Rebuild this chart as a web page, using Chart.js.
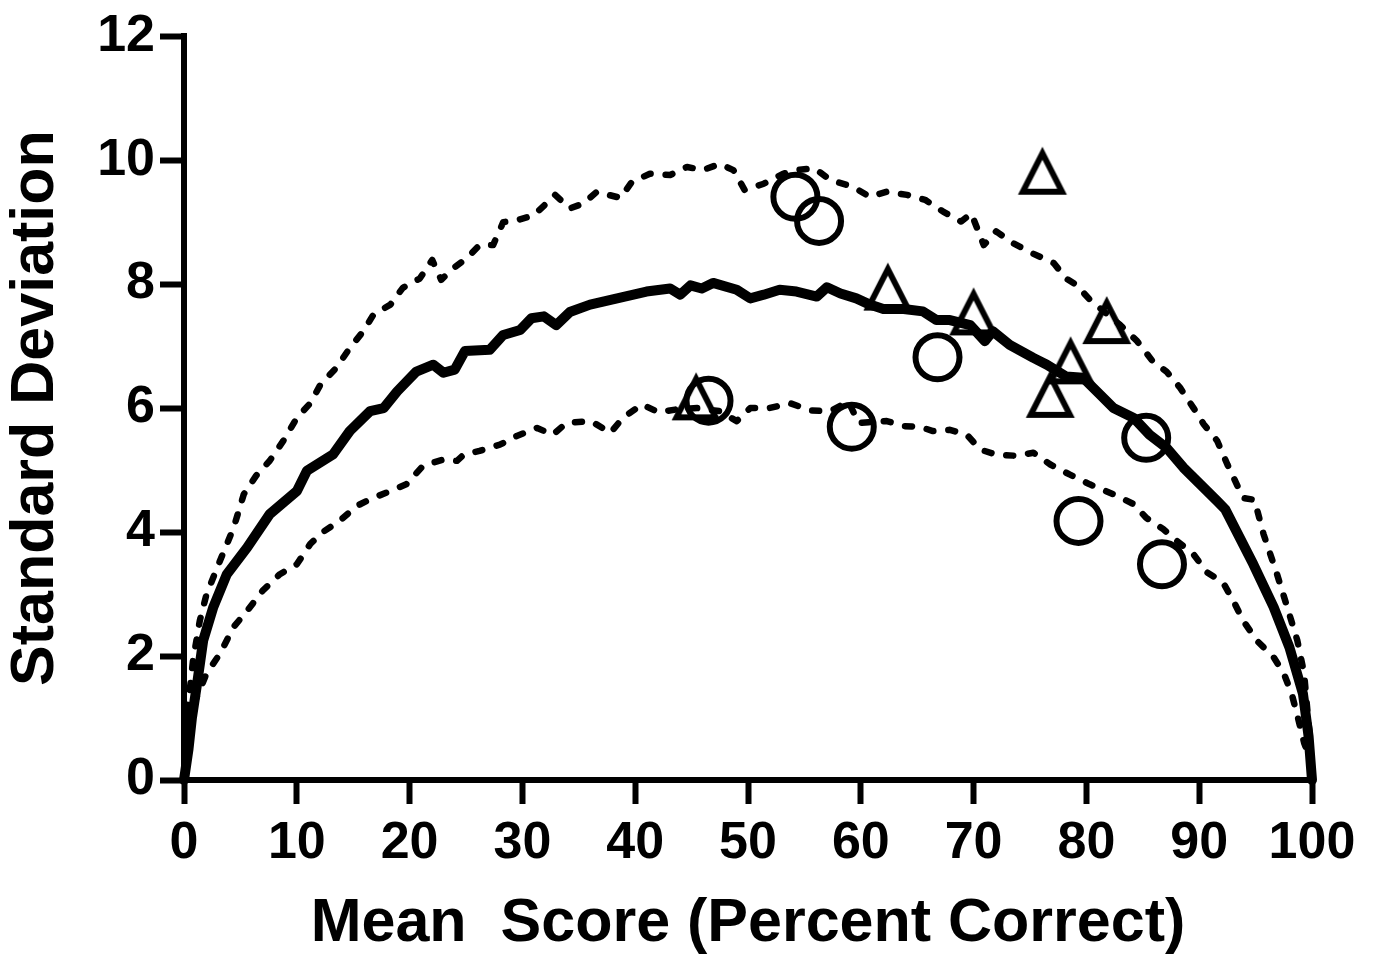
<!DOCTYPE html>
<html>
<head>
<meta charset="utf-8">
<title>Standard Deviation vs Mean Score</title>
<script src="https://cdn.jsdelivr.net/npm/chart.js@4.4.1/dist/chart.umd.min.js"></script>
<style>
  html, body { margin: 0; padding: 0; background: #fff; }
  #wrap { width: 1376px; height: 962px; }
</style>
</head>
<body>
<div id="wrap"><canvas id="chart" width="1376" height="962"></canvas></div>
<script>
// Axis ticks
const xTicks = [0, 10, 20, 30, 40, 50, 60, 70, 80, 90, 100];
const yTicks = [0, 2, 4, 6, 8, 10, 12];

// Mean simulated SD as a function of mean score: [mean %, SD]
const meanSD = [
  [0, 0], [0.4, 0.5], [0.7, 1.0], [1.2, 1.6], [1.7, 2.25], [2.6, 2.79], [3.8, 3.32],
  [5.6, 3.75], [7.6, 4.29], [10.0, 4.66], [10.9, 4.99], [13.2, 5.25], [14.7, 5.63],
  [16.5, 5.95], [17.7, 6.0], [18.9, 6.27], [20.6, 6.59], [22.1, 6.70], [23.0, 6.57],
  [24.0, 6.62], [24.9, 6.92], [27.1, 6.94], [28.3, 7.18], [29.8, 7.26], [30.8, 7.45],
  [31.9, 7.48], [33.0, 7.34], [34.2, 7.55], [36.0, 7.67], [38.4, 7.77], [41.0, 7.88],
  [43.1, 7.93], [44.0, 7.83], [44.9, 7.98], [45.9, 7.93], [46.9, 8.02], [49.0, 7.91],
  [50.2, 7.77], [51.4, 7.83], [52.8, 7.91], [54.3, 7.88], [56.1, 7.80], [57.0, 7.95],
  [58.2, 7.85], [59.6, 7.77], [60.8, 7.67], [62.0, 7.60], [63.8, 7.60], [65.5, 7.56],
  [66.7, 7.42], [67.9, 7.42], [69.7, 7.34], [71.0, 7.08], [71.7, 7.24], [73.2, 7.02],
  [75.3, 6.81], [76.5, 6.70], [78.2, 6.51], [79.7, 6.49], [81.2, 6.22], [82.4, 6.0],
  [84.2, 5.84], [85.6, 5.57], [87.1, 5.36], [88.6, 5.04], [90.1, 4.77], [91.6, 4.50],
  [92.3, 4.37], [94.8, 3.48], [96.6, 2.79], [98.0, 2.14], [99.2, 1.39], [99.7, 0.7],
  [100, 0]
];

// Upper bound of simulated SD: [mean %, SD]
const upperSD = [
  [0.3, 1.1], [0.8, 1.93], [1.4, 2.57], [2.0, 3.0], [3.2, 3.54], [4.4, 4.07], [5.3, 4.61],
  [6.4, 4.91], [7.6, 5.15], [8.8, 5.47], [10.0, 5.84], [11.2, 6.08], [12.1, 6.38],
  [13.5, 6.65], [14.7, 6.97], [15.9, 7.24], [16.8, 7.51], [18.3, 7.67], [19.4, 7.94],
  [20.9, 8.09], [22.0, 8.39], [22.8, 8.07], [23.9, 8.26], [25.1, 8.42], [26.2, 8.63],
  [27.4, 8.63], [28.3, 9.0], [29.5, 9.03], [31.0, 9.11], [32.4, 9.35], [32.9, 9.44],
  [34.2, 9.22], [35.4, 9.30], [36.6, 9.49], [38.7, 9.39], [39.7, 9.65], [41.3, 9.78],
  [43.1, 9.76], [44.6, 9.89], [46.0, 9.84], [47.5, 9.94], [48.7, 9.84], [49.7, 9.52],
  [51.4, 9.62], [53.1, 9.78], [54.3, 9.84], [55.9, 9.87], [57.3, 9.68], [59.3, 9.57],
  [60.8, 9.41], [62.3, 9.49], [64.1, 9.44], [65.7, 9.36], [67.3, 9.17], [68.9, 9.01],
  [69.8, 9.14], [70.9, 8.63], [72.0, 8.85], [73.5, 8.66], [75.3, 8.49], [77.1, 8.34],
  [78.2, 8.09], [79.1, 7.99], [80.3, 7.75], [83.0, 7.34], [84.5, 7.08], [85.9, 6.75],
  [87.1, 6.59], [88.3, 6.33], [89.5, 6.0], [90.4, 5.74], [91.6, 5.47], [92.5, 5.09],
  [93.9, 4.55], [94.9, 4.52], [95.7, 3.97], [96.9, 3.32], [97.8, 2.79], [98.7, 2.25],
  [99.3, 1.72], [99.7, 0.9], [99.9, 0.6]
];

// Lower bound of simulated SD: [mean %, SD]
const lowerSD = [
  [0.3, 0.9], [0.8, 1.2], [1.4, 1.45], [2.0, 1.72], [3.2, 2.04], [4.4, 2.47], [5.6, 2.73],
  [7.0, 3.06], [8.5, 3.32], [10.0, 3.48], [11.2, 3.81], [12.3, 4.0], [13.8, 4.18],
  [15.3, 4.42], [16.5, 4.53], [18.0, 4.64], [19.7, 4.77], [21.2, 5.07], [23.0, 5.17],
  [24.2, 5.15], [24.8, 5.25], [26.2, 5.31], [28.0, 5.41], [29.5, 5.55], [31.3, 5.68],
  [32.7, 5.57], [33.9, 5.76], [36.1, 5.79], [37.8, 5.60], [38.9, 5.84], [40.6, 6.06],
  [42.1, 5.93], [43.7, 5.98], [45.5, 6.0], [47.5, 5.95], [49.0, 5.79], [50.2, 6.0],
  [51.9, 6.0], [53.7, 6.08], [55.6, 5.96], [57.3, 5.95], [58.9, 6.11], [59.8, 5.76],
  [62.3, 5.79], [63.8, 5.71], [65.2, 5.70], [66.4, 5.63], [67.9, 5.65], [69.4, 5.57],
  [70.6, 5.33], [72.0, 5.25], [73.8, 5.23], [75.3, 5.28], [76.8, 5.09], [78.5, 4.93],
  [80.3, 4.77], [82.4, 4.61], [84.2, 4.45], [85.3, 4.23], [86.8, 4.05], [88.0, 3.86],
  [89.5, 3.64], [90.7, 3.35], [92.1, 3.19], [93.0, 2.90], [93.9, 2.57], [95.1, 2.25],
  [96.6, 1.98], [97.5, 1.72], [98.2, 1.39], [98.8, 0.97], [99.3, 0.6], [99.7, 0.4]
];

// Observed exams: [mean %, SD]
const circleExams = [
  [54.2, 9.41], [56.3, 9.02], [46.5, 6.12], [59.2, 5.70], [66.8, 6.82],
  [85.3, 5.52], [79.3, 4.18], [86.7, 3.48]
];
const triangleExams = [
  [76.1, 9.83], [62.4, 7.96], [70.0, 7.56], [81.8, 7.42], [78.6, 6.77],
  [76.8, 6.23], [45.4, 6.19]
];

const toXY = pairs => pairs.map(([x, y]) => ({ x, y }));

// Open triangle marker, slightly taller than equilateral
function makeTriangle() {
  const c = document.createElement('canvas');
  c.width = 60; c.height = 60;
  const g = c.getContext('2d');
  g.strokeStyle = '#000';
  g.lineWidth = 6;
  g.lineJoin = 'miter';
  g.beginPath();
  g.moveTo(30, 12.5);
  g.lineTo(49.6, 51);
  g.lineTo(10.4, 51);
  g.closePath();
  g.stroke();
  return c;
}

Chart.defaults.color = '#000';
Chart.defaults.font.family = "'Liberation Sans', Arial, Helvetica, sans-serif";
Chart.defaults.font.weight = 'bold';

const dashed = {
  showLine: true,
  borderColor: '#000',
  borderWidth: 6.5,
  borderDash: [7, 15],
  borderCapStyle: 'round',
  borderJoinStyle: 'round',
  pointRadius: 0,
  tension: 0,
  clip: false
};

new Chart(document.getElementById('chart'), {
  type: 'scatter',
  data: {
    datasets: [
      {
        label: 'Exams A',
        data: toXY(circleExams),
        pointStyle: 'circle',
        pointRadius: 22,
        pointBorderWidth: 6,
        pointBorderColor: '#000',
        pointBackgroundColor: 'rgba(0,0,0,0)',
        clip: false
      },
      {
        label: 'Exams B',
        data: toXY(triangleExams),
        pointStyle: makeTriangle(),
        pointRadius: 24,
        clip: false
      },
      {
        label: 'Mean SD',
        data: toXY(meanSD),
        showLine: true,
        borderColor: '#000',
        borderWidth: 10,
        borderJoinStyle: 'round',
        borderCapStyle: 'round',
        pointRadius: 0,
        tension: 0,
        clip: false
      },
      Object.assign({ label: 'Upper SD', data: toXY(upperSD) }, dashed),
      Object.assign({ label: 'Lower SD', data: toXY(lowerSD) }, dashed)
    ]
  },
  options: {
    responsive: false,
    animation: false,
    events: [],
    layout: { padding: { left: 0, right: 64, top: 33, bottom: 0 } },
    plugins: {
      legend: { display: false },
      tooltip: { enabled: false },
      title: { display: false }
    },
    scales: {
      x: {
        type: 'linear',
        min: 0,
        max: 100,
        afterBuildTicks: s => { s.ticks = xTicks.map(v => ({ value: v })); },
        afterFit: s => { s.height = 182; },
        border: { display: true, color: '#000', width: 6 },
        grid: {
          drawOnChartArea: false,
          drawTicks: true,
          tickLength: 24,
          tickWidth: 6,
          tickColor: '#000'
        },
        ticks: {
          padding: 8,
          maxRotation: 0,
          autoSkip: false,
          color: '#000',
          font: { size: 52, weight: 'bold' }
        },
        title: {
          display: true,
          text: 'Mean  Score (Percent Correct)',
          color: '#000',
          padding: { top: 0, bottom: 1 },
          font: { size: 61, weight: 'bold', lineHeight: 1.2 }
        }
      },
      y: {
        type: 'linear',
        min: 0,
        max: 12,
        afterBuildTicks: s => { s.ticks = yTicks.map(v => ({ value: v })); },
        afterFit: s => { s.width = 184; },
        border: { display: true, color: '#000', width: 6 },
        grid: {
          drawOnChartArea: false,
          drawTicks: true,
          tickLength: 24,
          tickWidth: 6,
          tickColor: '#000'
        },
        ticks: {
          padding: 5,
          autoSkip: false,
          color: '#000',
          font: { size: 52, weight: 'bold' }
        },
        title: {
          display: true,
          text: 'Standard Deviation',
          color: '#000',
          padding: { top: 0, bottom: 0 },
          font: { size: 61, weight: 'bold', lineHeight: 1.2 }
        }
      }
    }
  }
});
</script>
</body>
</html>
